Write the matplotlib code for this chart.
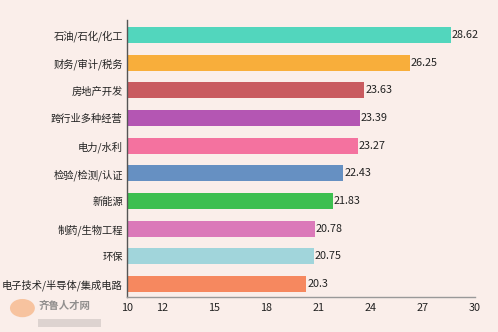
import matplotlib
matplotlib.use("Agg")
import matplotlib.pyplot as plt
from matplotlib.patches import Ellipse

plt.rcParams['font.family'] = ['Noto Sans CJK SC', 'DejaVu Sans']

categories = ["石油/石化/化工", "财务/审计/税务", "房地产开发", "跨行业多种经营", "电力/水利",
              "检验/检测/认证", "新能源", "制药/生物工程", "环保", "电子技术/半导体/集成电路"]
values = [28.62, 26.25, 23.63, 23.39, 23.27, 22.43, 21.83, 20.78, 20.75, 20.3]
value_labels = ["28.62", "26.25", "23.63", "23.39", "23.27", "22.43", "21.83", "20.78", "20.75", "20.3"]
colors = ["#52D6BD", "#F8AE3B", "#C95B60", "#B456B3", "#F4729F", "#6690C2", "#3DBF50", "#DB79B9", "#A1D5DB", "#F6885F"]
xticks = [10, 12, 15, 18, 21, 24, 27, 30]

bg = "#FAEEEA"
fig = plt.figure(figsize=(4.98, 3.32), dpi=100, facecolor=bg)
ax = fig.add_axes([0.255, 0.105, 0.699, 0.835], facecolor=bg)

y = list(range(len(categories)))
ax.barh(y, [v - 10 for v in values], left=10, height=0.58, color=colors)
for yi, v, lab in zip(y, values, value_labels):
    ax.text(v + 0.05, yi, lab, va='center', ha='left', fontsize=7.8, color='#222222')

ax.set_xlim(10, 30)
ax.set_ylim(9.47, -0.55)
ax.set_yticks(y)
ax.set_yticklabels(categories, fontsize=7.4, color='#222222')
ax.set_xticks(xticks)
ax.set_xticklabels([str(t) for t in xticks], fontsize=7.8, color='#222222')
ax.tick_params(axis='y', length=0, pad=3)
ax.tick_params(axis='x', length=0, pad=4)
for s in ['top', 'right']:
    ax.spines[s].set_visible(False)
ax.spines['left'].set_color('#555555')
ax.spines['left'].set_linewidth(1.0)
ax.spines['bottom'].set_color('#999999')
ax.spines['bottom'].set_linewidth(1.0)

# watermark
fig.patches.append(Ellipse((0.045, 0.072), 0.05, 0.055, transform=fig.transFigure,
                           facecolor='#F7B98C', edgecolor='none', alpha=0.8))
fig.text(0.078, 0.078, "齐鲁人才网", fontsize=7.5, color='#777777', va='center', ha='left',
         fontweight='bold', alpha=0.8)
fig.patches.append(plt.Rectangle((0.077, 0.016), 0.125, 0.022, transform=fig.transFigure,
                                 facecolor='#DDD3D0', edgecolor='none'))

fig.savefig("out.png", dpi=100, facecolor=bg)
